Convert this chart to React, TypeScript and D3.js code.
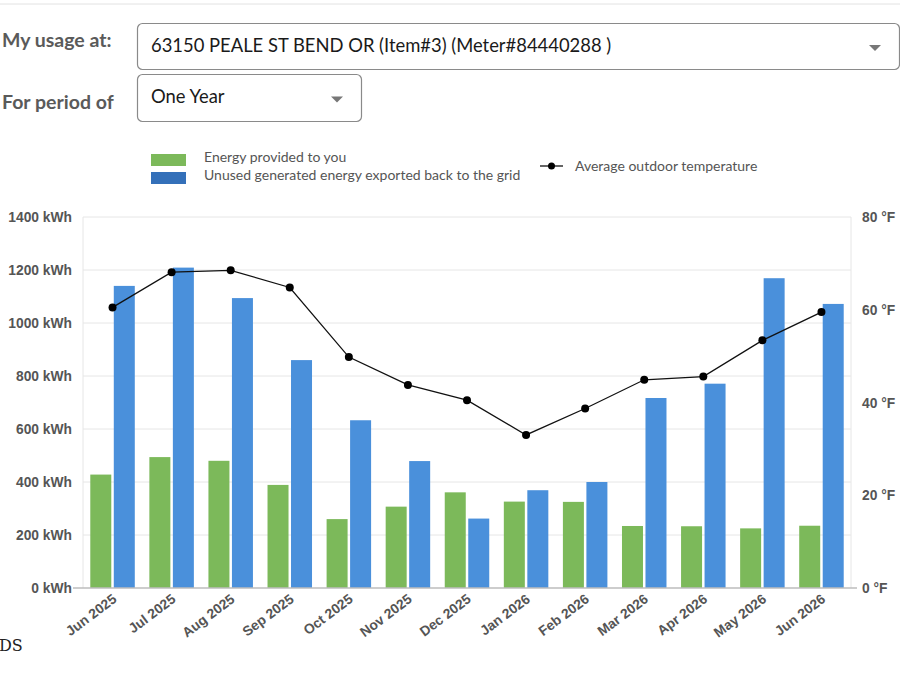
import React, { useEffect, useRef } from 'react';
import * as d3 from 'd3';

const months = [
  'Jun 2025', 'Jul 2025', 'Aug 2025', 'Sep 2025', 'Oct 2025', 'Nov 2025', 'Dec 2025',
  'Jan 2026', 'Feb 2026', 'Mar 2026', 'Apr 2026', 'May 2026', 'Jun 2026',
];
const provided = [428, 494, 480, 389, 260, 307, 361, 326, 325, 234, 233, 225, 235];
const exported = [1140, 1209, 1094, 860, 633, 479, 262, 369, 400, 717, 771, 1169, 1072];
const temperature = [60.5, 68.1, 68.5, 64.8, 49.8, 43.8, 40.5, 33.0, 38.7, 44.9, 45.6, 53.4, 59.5];
const kwhTicks = [0, 200, 400, 600, 800, 1000, 1200, 1400];
const tempTicks = [0, 20, 40, 60, 80];

const address = '63150 PEALE ST BEND OR (Item#3) (Meter#84440288 )';
const period = 'One Year';

const W = 900;
const H = 675;
const margin = { top: 217, right: 49, bottom: 87, left: 83 };

const GREEN = '#7cb95a';
const BLUE = '#4a90db';
const LEGEND_BLUE = '#3470b9';
const uiFont = 'Lato, "Open Sans", sans-serif';
const axisFont = '"Liberation Sans", Arial, sans-serif';

const App = () => {
  const svgRef = useRef<SVGSVGElement>(null);

  useEffect(() => {
    const svg = d3.select(svgRef.current);
    svg.selectAll('*').remove();

    // header controls
    svg.append('line')
      .attr('x1', 0).attr('x2', W).attr('y1', 4).attr('y2', 4)
      .attr('stroke', '#e2e2e2');

    const labels = [
      { text: 'My usage at:', y: 47 },
      { text: 'For period of', y: 109 },
    ];
    labels.forEach(l => {
      svg.append('text')
        .attr('x', 2).attr('y', l.y)
        .attr('font-family', uiFont).attr('font-weight', 700)
        .attr('font-size', 19.5).attr('fill', '#5a5a5a')
        .text(l.text);
    });

    const boxes = [
      { x: 137, y: 23, w: 762, h: 46, text: address },
      { x: 137, y: 74, w: 224, h: 47, text: period },
    ];
    boxes.forEach(b => {
      svg.append('rect')
        .attr('x', b.x + 0.5).attr('y', b.y + 0.5)
        .attr('width', b.w).attr('height', b.h)
        .attr('rx', 5)
        .attr('fill', '#fff').attr('stroke', '#8a8a8a').attr('stroke-width', 1.2);
      svg.append('text')
        .attr('x', b.x + 14).attr('y', b.y + 29)
        .attr('font-family', uiFont).attr('font-size', 18.4).attr('fill', '#1a1a1a')
        .text(b.text);
      const cx = b.x + b.w - 24;
      const cy = b.y + b.h / 2 + 2;
      svg.append('path')
        .attr('d', `M${cx - 6},${cy - 3}L${cx + 6},${cy - 3}L${cx},${cy + 3}Z`)
        .attr('fill', '#777');
    });

    // scales
    const x = d3.scaleBand<string>()
      .domain(months)
      .range([margin.left, W - margin.right]);
    const y = d3.scaleLinear().domain([0, 1400]).range([H - margin.bottom, margin.top]);
    const yT = d3.scaleLinear().domain([0, 80]).range([H - margin.bottom, margin.top]);

    // grid
    svg.append('g')
      .selectAll('line')
      .data(kwhTicks.filter(t => t > 0))
      .join('line')
      .attr('x1', margin.left).attr('x2', W - margin.right)
      .attr('y1', d => y(d)).attr('y2', d => y(d))
      .attr('stroke', '#e6e6e6');
    [margin.left, W - margin.right].forEach(xv => {
      svg.append('line')
        .attr('x1', xv).attr('x2', xv)
        .attr('y1', margin.top).attr('y2', y(0))
        .attr('stroke', '#e6e6e6');
    });

    // bars
    const barW = 21;
    const gap = 2.5;
    const g = svg.append('g');
    g.selectAll('.provided')
      .data(months)
      .join('rect')
      .attr('class', 'provided')
      .attr('x', d => x(d)! + x.bandwidth() / 2 - gap / 2 - barW)
      .attr('y', (d, i) => y(provided[i]))
      .attr('width', barW)
      .attr('height', (d, i) => y(0) - y(provided[i]))
      .attr('fill', GREEN);
    g.selectAll('.exported')
      .data(months)
      .join('rect')
      .attr('class', 'exported')
      .attr('x', d => x(d)! + x.bandwidth() / 2 + gap / 2)
      .attr('y', (d, i) => y(exported[i]))
      .attr('width', barW)
      .attr('height', (d, i) => y(0) - y(exported[i]))
      .attr('fill', BLUE);

    // baseline
    svg.append('line')
      .attr('x1', margin.left - 10).attr('x2', W - margin.right + 6)
      .attr('y1', y(0)).attr('y2', y(0))
      .attr('stroke', '#bdbdbd').attr('stroke-width', 1.5);

    // temperature line
    const line = d3.line<number>()
      .x((d, i) => x(months[i])! + x.bandwidth() / 2)
      .y(d => yT(d));
    svg.append('path')
      .datum(temperature)
      .attr('fill', 'none')
      .attr('stroke', '#111')
      .attr('stroke-width', 1.3)
      .attr('d', line);
    svg.append('g')
      .selectAll('circle')
      .data(temperature)
      .join('circle')
      .attr('cx', (d, i) => x(months[i])! + x.bandwidth() / 2)
      .attr('cy', d => yT(d))
      .attr('r', 4)
      .attr('fill', '#000');

    // axes labels
    svg.append('g')
      .selectAll('text')
      .data(kwhTicks)
      .join('text')
      .attr('x', 72).attr('y', d => y(d) + 5)
      .attr('text-anchor', 'end')
      .attr('font-family', axisFont).attr('font-weight', 700)
      .attr('font-size', 13.8).attr('fill', '#555')
      .text(d => `${d} kWh`);
    svg.append('g')
      .selectAll('text')
      .data(tempTicks)
      .join('text')
      .attr('x', 862).attr('y', d => yT(d) + 5)
      .attr('font-family', axisFont).attr('font-weight', 700)
      .attr('font-size', 13.8).attr('fill', '#555')
      .text(d => `${d} °F`);
    svg.append('g')
      .selectAll('text')
      .data(months)
      .join('text')
      .attr('transform', d => `translate(${x(d)! + x.bandwidth() / 2 + 5},${y(0) + 13}) rotate(-37)`)
      .attr('text-anchor', 'end')
      .attr('font-family', axisFont).attr('font-weight', 700)
      .attr('font-size', 13.8).attr('fill', '#555')
      .text(d => d);

    // legend
    const legend = svg.append('g').attr('font-family', uiFont).attr('font-size', 14).attr('fill', '#555');
    legend.append('rect').attr('x', 151).attr('y', 154).attr('width', 35).attr('height', 12).attr('fill', GREEN);
    legend.append('rect').attr('x', 151).attr('y', 172).attr('width', 35).attr('height', 12).attr('fill', LEGEND_BLUE);
    legend.append('text').attr('x', 204).attr('y', 162).text('Energy provided to you');
    legend.append('text').attr('x', 204).attr('y', 180).text('Unused generated energy exported back to the grid');
    legend.append('line').attr('x1', 540).attr('x2', 563).attr('y1', 166).attr('y2', 166)
      .attr('stroke', '#111').attr('stroke-width', 1.3);
    legend.append('circle').attr('cx', 551.5).attr('cy', 166).attr('r', 3.5).attr('fill', '#000');
    legend.append('text').attr('x', 575).attr('y', 171).text('Average outdoor temperature');

    svg.append('text')
      .attr('x', -1).attr('y', 651)
      .attr('font-family', '"DejaVu Serif", "Liberation Serif", serif')
      .attr('font-size', 16).attr('fill', '#222')
      .text('DS');
  }, []);

  return (
    <div style={{ position: 'absolute', left: 0, top: 0, width: W, height: H, background: '#fff' }}>
      <svg ref={svgRef} width={W} height={H}></svg>
    </div>
  );
};

export default App;
